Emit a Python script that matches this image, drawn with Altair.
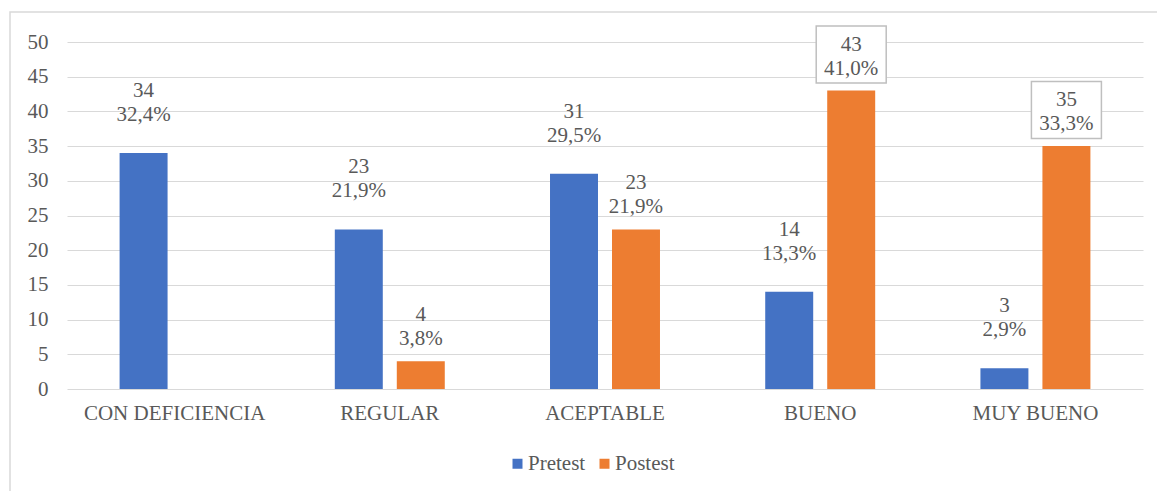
import altair as alt
import pandas as pd

categories = ["CON DEFICIENCIA", "REGULAR", "ACEPTABLE", "BUENO", "MUY BUENO"]
series = ["Pretest", "Postest"]
colors = ["#4472C4", "#ED7D31"]
pretest = [34, 23, 31, 14, 3]
postest = [0, 4, 23, 43, 35]
pretest_pct = ["32,4%", "21,9%", "29,5%", "13,3%", "2,9%"]
postest_pct = ["0,0%", "3,8%", "21,9%", "41,0%", "33,3%"]
boxed_postest = ["BUENO", "MUY BUENO"]
y_ticks = [0, 5, 10, 15, 20, 25, 30, 35, 40, 45, 50]

FONT = "Liberation Serif"
TXT = "#595959"
GRID = "#d9d9d9"
FS = 21

rows = []
for i, c in enumerate(categories):
    rows.append(dict(cat=c, serie="Pretest", value=pretest[i],
                     label=f"{pretest[i]}\n{pretest_pct[i]}", boxed=False))
    rows.append(dict(cat=c, serie="Postest", value=postest[i],
                     label=f"{postest[i]}\n{postest_pct[i]}", boxed=c in boxed_postest))
df = pd.DataFrame(rows)
df = df[df["value"] > 0]

base = alt.Chart(df).encode(
    x=alt.X("cat:N", sort=categories,
            scale=alt.Scale(paddingInner=0.489, paddingOuter=0.2444),
            axis=alt.Axis(title=None, domain=False, ticks=False, labelAngle=0,
                          labelPadding=13, grid=False, labelFont=FONT, labelLimit=400,
                          labelFontSize=FS, labelColor=TXT)),
    xOffset=alt.XOffset("serie:N", sort=series,
                        scale=alt.Scale(domain=series, paddingInner=0.226, paddingOuter=0)),
    y=alt.Y("value:Q", scale=alt.Scale(domain=[0, 50], nice=False),
            axis=alt.Axis(values=y_ticks, title=None, domain=False, ticks=False,
                          labelPadding=19, labelFont=FONT, labelFontSize=FS,
                          labelColor=TXT, gridColor=GRID, gridWidth=1)),
)

bars = base.mark_bar().encode(
    color=alt.Color("serie:N",
                    scale=alt.Scale(domain=series, range=colors),
                    legend=alt.Legend(title=None, orient="none", direction="horizontal",
                                      legendX=440, legendY=411, padding=0,
                                      symbolType="square", symbolSize=100,
                                      symbolStrokeWidth=0, labelOffset=0,
                                      columnPadding=8, labelFont=FONT,
                                      labelFontSize=FS, labelColor=TXT))
)

boxes = base.transform_filter("datum.boxed").mark_point(
    shape="M-1,-0.814L1,-0.814L1,0.814L-1,0.814Z", size=4900, filled=True,
    fill="white", fillOpacity=1, stroke="#bfbfbf", strokeWidth=1.5, opacity=1,
    yOffset=-36,
)

pre_text = base.transform_filter("datum.serie == 'Pretest'").mark_text(
    baseline="bottom", dy=-52, lineBreak="\n", lineHeight=24,
    font=FONT, fontSize=FS, color=TXT,
).encode(text="label:N")

post_text = base.transform_filter("datum.serie == 'Postest'").mark_text(
    baseline="bottom", dy=-36, lineBreak="\n", lineHeight=24,
    font=FONT, fontSize=FS, color=TXT,
).encode(text="label:N")

frame = alt.Chart(pd.DataFrame({"k": [0]})).mark_rect(
    fillOpacity=0, stroke=GRID, strokeWidth=1.5,
).encode(x=alt.value(-57), x2=alt.value(1200), y=alt.value(-30), y2=alt.value(600))

chart = alt.layer(frame, bars, boxes, pre_text, post_text).properties(
    width=1076, height=347,
    autosize=alt.AutoSizeParams(type="none"),
    padding={"left": 67, "top": 42, "right": 14, "bottom": 102},
    background="white",
).configure_view(strokeWidth=0)

chart.save("out.html", embed_options={"renderer": "svg", "actions": False})
